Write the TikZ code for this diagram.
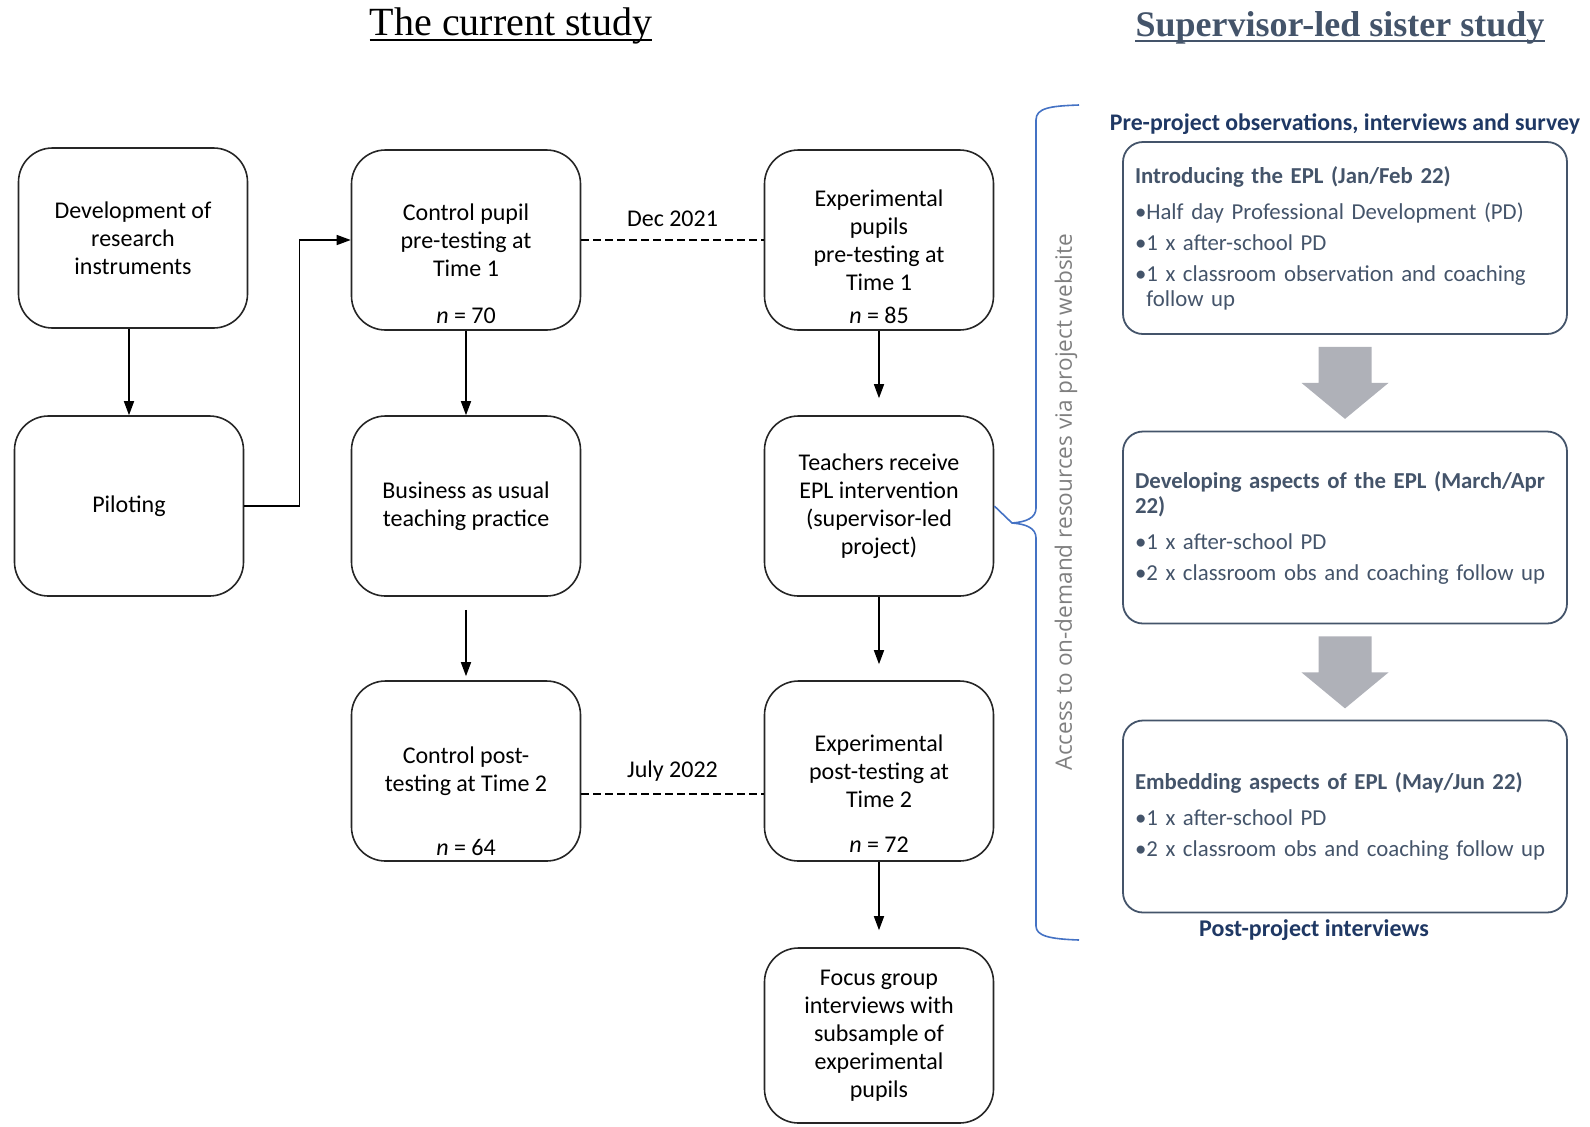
\documentclass[tikz,border=0pt]{standalone}
\usepackage{fontspec}
\setmainfont{Carlito}
\newfontfamily\ttlfont{Liberation Serif}
\newfontfamily\sidefont{Open Sans}
\usepackage{tikz}
\usetikzlibrary{arrows.meta,calc}
\definecolor{slate}{HTML}{44546A}
\definecolor{navy}{HTML}{1F3864}
\definecolor{braceblue}{HTML}{4472C4}
\definecolor{blockgray}{HTML}{AFB1B8}
\definecolor{sidegray}{HTML}{7F7F7F}
\tikzset{
  stage/.style={draw=black!85, line width=0.8pt, rounded corners=17pt, minimum width=114.5pt,
    minimum height=90pt, align=center, inner sep=0pt, font=\fontsize{12}{14}\selectfont},
  phase/.style={draw=slate, line width=0.9pt, rounded corners=10pt, text width=210pt, inner xsep=6pt,
    minimum height=96pt, align=left, text=slate, font=\fontsize{11.4}{12.5}\selectfont},
  flow/.style={-{Triangle[width=5pt,length=7pt]}, line width=0.75pt},
  link/.style={dash pattern=on 4pt off 2pt, line width=0.75pt},
  nlab/.style={anchor=base, inner sep=0pt, font=\fontsize{12}{14}\selectfont},
  datelab/.style={anchor=base, inner sep=0pt, font=\fontsize{12}{14}\selectfont},
  blockarrow/.style={fill=blockgray},
}

\begin{document}
\begin{tikzpicture}[x=0.5pt,y=-0.5pt]
\useasboundingbox (0,0) rectangle (1590,1126);

\node[anchor=base, inner sep=0pt, font=\ttlfont\fontsize{20}{24}\selectfont] (ttlcur) at (511,35) {The current study};
\draw[line width=1pt] ([yshift=-2.4pt]ttlcur.base west) -- ([yshift=-2.4pt]ttlcur.base east);
\node[anchor=base, inner sep=0pt, text=slate, font=\ttlfont\bfseries\fontsize{18}{22}\selectfont] (ttlsis) at (1340,36) {Supervisor-led sister study};
\draw[slate, line width=1pt] ([yshift=-2.6pt]ttlsis.base west) -- ([yshift=-2.6pt]ttlsis.base east);

\node[stage] (dev) at (133,238) {Development of\\research\\instruments};
\node[stage] (pilot) at (129,506) {Piloting};
\node[stage] (ctrlpre) at (466,240) {Control pupil\\pre-testing at\\Time 1};
\node[stage] (bau) at (466,506) {Business as usual\\teaching practice};
\node[stage] (ctrlpost) at (466,771) {Control post-\\testing at Time 2};
\node[stage] (exppre) at (879,240) {Experimental\\pupils\\pre-testing at\\Time 1};
\node[stage] (teach) at (879,506) {Teachers receive\\EPL intervention\\(supervisor-led\\project)};
\node[stage] (exppost) at (879,771) {Experimental\\post-testing at\\Time 2};
\node[stage, minimum height=87.5pt] (focus) at (879,1035.5) {Focus group\\interviews with\\subsample of\\experimental\\pupils};

\node[nlab] (ctrlpreN) at ([yshift=3.7pt]ctrlpre.south) {\textit{n} = 70};
\node[nlab] (exppreN) at ([yshift=3.7pt]exppre.south) {\textit{n} = 85};
\node[nlab] (ctrlpostN) at ([yshift=3.3pt]ctrlpost.south) {\textit{n} = 64};
\node[nlab] (exppostN) at ([yshift=4.5pt]exppost.south) {\textit{n} = 72};

\draw[flow] (dev.south -| pilot.north) -- (pilot.north);
\draw[flow] (pilot.east) -- ++(55,0) |- (ctrlpre.west);
\draw[flow] (ctrlpre) -- (bau);
\draw[flow, shorten <=6.5pt, shorten >=2pt] (bau) -- (ctrlpost);
\draw[flow, shorten >=8.5pt] (exppre) -- (teach);
\draw[flow, shorten >=8pt] (teach) -- (exppost);
\draw[flow, shorten >=8.5pt] (exppost) -- (focus);

\draw[link] (ctrlpre.east) -- (exppre.west);
\node[datelab] (dec) at ($(ctrlpre.east)!0.5!(exppre.west)+(0,-14)$) {Dec 2021};
\draw[link] ($(ctrlpost.east)+(0,23)$) -- ($(exppost.west)+(0,23)$);
\node[datelab] (july) at ($(ctrlpost.east)!0.5!(exppost.west)+(0,6)$) {July 2022};

\draw[braceblue, line width=0.8pt] (1079,105) .. controls (1050,106) and (1036,108) .. (1036,120)
  -- (1036,508) .. controls (1036,518) and (1026,522) .. (1012,523) -- (teach.east)
  -- (1012,523) .. controls (1026,524) and (1036,528) .. (1036,538)
  -- (1036,926) .. controls (1036,936) and (1050,939) .. (1079,940);
\node[rotate=90, inner sep=0pt, text=sidegray, font=\sidefont\fontsize{11.3}{13}\selectfont] (access) at (1066,502)
  {Access to on-demand resources via project website};

\node[inner sep=0pt, text=navy, font=\bfseries\fontsize{11.9}{14}\selectfont] (pre) at (1345,124) {Pre-project observations, interviews and survey};
\node[phase] (intro) at (1345,238) {\textbf{Introducing the EPL (Jan/Feb 22)}\\[5.5pt]
  •Half day Professional Development (PD)\\[3pt]
  •1 x after-school PD\\[3pt]
  •1 x classroom observation and coaching\\
  \phantom{•}follow up};
\node[phase] (develop) at (1345,527.5) {\textbf{Developing aspects of the EPL (March/Apr}\\\textbf{22)}\\[5.5pt]
  •1 x after-school PD\\[3pt]
  •2 x classroom obs and coaching follow up};
\node[phase] (embed) at (1345,816.5) {\textbf{Embedding aspects of EPL (May/Jun 22)}\\[5.5pt]
  •1 x after-school PD\\[3pt]
  •2 x classroom obs and coaching follow up};
\node[inner sep=0pt, text=navy, font=\bfseries\fontsize{12}{14}\selectfont] (post) at (1314,930) {Post-project interviews};

\fill[blockarrow] ($(intro.south)+(-26.5,12)$) -- ++(53,0) -- ++(0,36) -- ++(17,0) -- ++(-43.5,36) -- ++(-43.5,-36) -- ++(17,0) -- cycle;
\fill[blockarrow] ($(develop.south)+(-26.5,12)$) -- ++(53,0) -- ++(0,36) -- ++(17,0) -- ++(-43.5,36) -- ++(-43.5,-36) -- ++(17,0) -- cycle;
\end{tikzpicture}
\end{document}
